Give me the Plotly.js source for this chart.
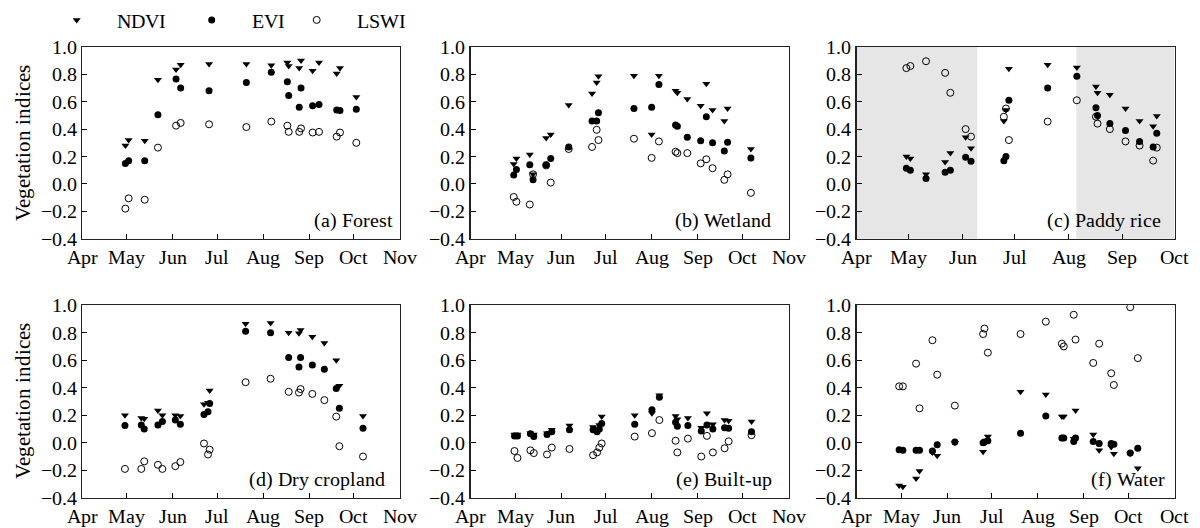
<!DOCTYPE html>
<html>
<head>
<meta charset="utf-8">
<script src="https://cdn.plot.ly/plotly-3.0.1.min.js"></script>
<style>
@font-face { font-family: "ChartSerif"; src: local("Liberation Serif"), local("LiberationSerif-Regular"), local("LiberationSerif"), local("DejaVu Serif"), local("DejaVuSerif"); }
html,body{margin:0;padding:0;background:#fff;}#chart{width:1200px;height:528px;}
</style>
</head>
<body>
<div id="chart"></div>
<script>
// Month ticks (day of year, non-leap year)
const monthTickVals = [91, 121, 152, 182, 213, 244, 274, 305];
const monthTickText = ["Apr", "May", "Jun", "Jul", "Aug", "Sep", "Oct", "Nov"];
const monthTickTextF = ["Apr", "May", "Jun", "Jul", "Aug", "Sep", "Oct", "Oct"];
const monthTickValsC = [91, 121, 152, 182, 213, 244, 274];
const monthTickTextC = ["Apr", "May", "Jun", "Jul", "Aug", "Sep", "Oct"];

// (a) Forest
const forestDoy  = [120.2, 122.4, 133.2, 142.1, 154.3, 157.4, 176.5, 201.6, 218.4, 229.2, 230.1, 237.2, 238.4, 246.2, 250.5, 262.4, 264.6, 275.6];
const forestNDVI = [0.28, 0.32, 0.315, 0.76, 0.835, 0.87, 0.875, 0.875, 0.865, 0.885, 0.86, 0.845, 0.90, 0.825, 0.885, 0.805, 0.845, 0.635];
const forestEVI  = [0.15, 0.17, 0.17, 0.505, 0.765, 0.70, 0.68, 0.74, 0.815, 0.745, 0.645, 0.56, 0.70, 0.57, 0.58, 0.54, 0.535, 0.545];
const forestLSWI = [-0.18, -0.105, -0.115, 0.265, 0.425, 0.445, 0.435, 0.415, 0.455, 0.425, 0.38, 0.38, 0.405, 0.375, 0.38, 0.345, 0.375, 0.30];

// (b) Wetland
const wetlandDoy  = [120.1, 121.9, 130.9, 133.1, 141.9, 145.0, 157.1, 172.8, 175.9, 177.1, 201.0, 212.9, 217.8, 229.0, 230.2, 236.9, 245.9, 249.7, 253.9, 261.8, 264.0, 279.7];
const wetlandNDVI = [0.145, 0.185, 0.215, 0.07, 0.335, 0.36, 0.575, 0.66, 0.74, 0.785, 0.79, 0.36, 0.79, 0.68, 0.665, 0.62, 0.57, 0.73, 0.54, 0.46, 0.55, 0.255];
const wetlandEVI  = [0.065, 0.105, 0.14, 0.03, 0.14, 0.185, 0.27, 0.46, 0.46, 0.52, 0.55, 0.56, 0.725, 0.43, 0.42, 0.34, 0.315, 0.49, 0.30, 0.24, 0.305, 0.19];
const wetlandLSWI = [-0.095, -0.13, -0.15, 0.07, 0.135, 0.01, 0.255, 0.27, 0.395, 0.32, 0.33, 0.19, 0.31, 0.235, 0.225, 0.225, 0.15, 0.18, 0.115, 0.03, 0.07, -0.065];

// (c) Paddy rice
const paddyDoy  = [119.7, 122.0, 131.0, 142.0, 145.0, 153.8, 156.9, 175.8, 177.0, 178.7, 201.0, 217.8, 228.8, 229.7, 236.8, 245.8, 253.9, 261.7, 263.8];
const paddyNDVI = [0.20, 0.185, 0.07, 0.16, 0.225, 0.34, 0.26, 0.46, 0.54, 0.84, 0.87, 0.85, 0.71, 0.665, 0.65, 0.55, 0.46, 0.42, 0.495];
const paddyEVI  = [0.115, 0.10, 0.04, 0.085, 0.10, 0.195, 0.165, 0.17, 0.20, 0.61, 0.70, 0.785, 0.555, 0.50, 0.44, 0.39, 0.31, 0.27, 0.37];
const paddyLSWI = [0.845, 0.86, 0.895, 0.81, 0.665, 0.40, 0.345, 0.49, 0.55, 0.32, 0.455, 0.61, 0.49, 0.44, 0.40, 0.31, 0.28, 0.17, 0.265];
// shaded periods (day of year)
const paddyShade = [[91, 160.5], [217.5, 274]];

// (d) Dry cropland
const dryDoy  = [119.9, 130.9, 132.9, 142.1, 145.1, 153.8, 157.2, 173.1, 175.8, 176.9, 201.1, 217.9, 230.1, 237.0, 238.1, 246.0, 254.1, 262.1, 264.2, 280.1];
const dryNDVI = [0.20, 0.18, 0.175, 0.235, 0.20, 0.20, 0.195, 0.28, 0.29, 0.38, 0.865, 0.87, 0.80, 0.795, 0.82, 0.77, 0.725, 0.60, 0.415, 0.195];
const dryEVI  = [0.125, 0.13, 0.10, 0.13, 0.155, 0.165, 0.135, 0.205, 0.225, 0.285, 0.81, 0.80, 0.62, 0.55, 0.62, 0.565, 0.535, 0.395, 0.25, 0.105];
const dryLSWI = [-0.19, -0.19, -0.135, -0.16, -0.19, -0.17, -0.14, -0.005, -0.085, -0.05, 0.44, 0.465, 0.37, 0.365, 0.39, 0.355, 0.31, 0.19, -0.025, -0.10];

// (e) Built-up
const builtDoy  = [120.6, 122.6, 131.3, 133.6, 142.5, 145.7, 157.6, 173.5, 176.2, 177.7, 179.3, 201.5, 213.1, 218.1, 229.0, 230.2, 237.3, 246.3, 250.1, 254.1, 262.0, 264.7, 280.1];
const builtNDVI = [0.06, 0.06, 0.07, 0.06, 0.07, 0.095, 0.125, 0.115, 0.10, 0.13, 0.19, 0.20, 0.215, 0.345, 0.195, 0.17, 0.18, 0.11, 0.215, 0.135, 0.165, 0.16, 0.155];
const builtEVI  = [0.05, 0.05, 0.065, 0.045, 0.06, 0.08, 0.095, 0.095, 0.08, 0.10, 0.14, 0.135, 0.24, 0.33, 0.15, 0.12, 0.125, 0.085, 0.13, 0.10, 0.11, 0.105, 0.08];
const builtLSWI = [-0.06, -0.11, -0.055, -0.075, -0.085, -0.035, -0.045, -0.09, -0.07, -0.035, -0.005, 0.045, 0.07, 0.165, 0.015, -0.07, 0.03, -0.10, 0.05, -0.07, -0.04, 0.01, 0.055];

// (f) Water
const waterDoy  = [119.7, 122.2, 131.1, 133.4, 142.1, 145.3, 157.2, 176.2, 177.1, 179.4, 201.4, 218.4, 229.2, 230.5, 237.2, 238.4, 250.3, 254.3, 262.4, 264.2, 275.2, 280.3];
const waterNDVI = [-0.31, -0.32, -0.26, -0.205, -0.07, -0.095, 0.0, -0.065, 0.0, 0.045, 0.37, 0.35, 0.19, 0.19, 0.03, 0.235, 0.06, -0.055, -0.03, -0.08, -0.08, -0.185];
const waterEVI  = [-0.05, -0.055, -0.055, -0.055, -0.06, -0.015, 0.005, 0.0, 0.005, 0.015, 0.07, 0.195, 0.035, 0.035, 0.01, 0.035, 0.01, -0.005, -0.005, -0.01, -0.075, -0.04];
const waterLSWI = [0.41, 0.41, 0.575, 0.25, 0.745, 0.495, 0.27, 0.79, 0.83, 0.655, 0.79, 0.88, 0.72, 0.70, 0.93, 0.75, 0.58, 0.72, 0.505, 0.42, 0.985, 0.615];

const panelLabels = ["(a) Forest", "(b) Wetland", "(c) Paddy rice", "(d) Dry cropland", "(e) Built-up", "(f) Water"];
const seriesNames = ["NDVI", "EVI", "LSWI"];

const panels = [
  {doy: forestDoy, v: [forestNDVI, forestEVI, forestLSWI]},
  {doy: wetlandDoy, v: [wetlandNDVI, wetlandEVI, wetlandLSWI]},
  {doy: paddyDoy, v: [paddyNDVI, paddyEVI, paddyLSWI]},
  {doy: dryDoy, v: [dryNDVI, dryEVI, dryLSWI]},
  {doy: builtDoy, v: [builtNDVI, builtEVI, builtLSWI]},
  {doy: waterDoy, v: [waterNDVI, waterEVI, waterLSWI]}
];

const FONT = "ChartSerif";
const markers = [
  {symbol: "triangle-down", size: 7, color: "#000"},
  {symbol: "circle", size: 7, color: "#000"},
  {symbol: "circle-open", size: 7, color: "#000", line: {color: "#000", width: 1}}
];
const legendIds = ["legend", "legend2", "legend3"];

const traces = [];
panels.forEach((p, i) => {
  const sfx = i === 0 ? "" : String(i + 1);
  for (let s = 0; s < 3; s++) {
    traces.push({
      type: "scatter", mode: "markers",
      x: p.doy, y: p.v[s], name: seriesNames[s],
      xaxis: "x" + sfx, yaxis: "y" + sfx,
      marker: markers[s],
      showlegend: i === 0,
      legend: legendIds[s],
      hoverinfo: "skip"
    });
  }
});

const W = 1200, H = 528;
const colX = [[82, 400], [470.5, 788.5], [856.5, 1174.5]];
const rowY = [[45, 237.7], [304.3, 497.7]];

const layout = {
  width: W, height: H,
  margin: {l: 0, r: 0, t: 0, b: 0},
  paper_bgcolor: "#fff", plot_bgcolor: "#fff",
  font: {family: FONT, size: 20, color: "#000"},
  shapes: [], annotations: []
};

const annotGap = [5, 16, 12, 13, 15, 8];

panels.forEach((p, i) => {
  const col = i % 3, row = Math.floor(i / 3);
  const sfx = i === 0 ? "" : String(i + 1);
  const isC = i === 2, isF = i === 5;
  layout["xaxis" + sfx] = {
    domain: [colX[col][0] / W, colX[col][1] / W],
    anchor: "y" + sfx,
    range: isC ? [91, 274] : [91, 305],
    tickmode: "array",
    tickvals: isC ? monthTickValsC : monthTickVals,
    ticktext: isC ? monthTickTextC : (isF ? monthTickTextF : monthTickText),
    ticks: "inside", ticklen: 5, tickwidth: 1, tickcolor: "#000",
    showline: true, mirror: true, linecolor: "#222", linewidth: 1.3,
    showgrid: false, zeroline: false,
    tickfont: {family: FONT, size: 20, color: "#000"},
    fixedrange: true
  };
  layout["yaxis" + sfx] = {
    domain: [1 - rowY[row][1] / H, 1 - rowY[row][0] / H],
    anchor: "x" + sfx,
    range: [-0.4, 1.0],
    tickmode: "linear", tick0: -0.4, dtick: 0.2, tickformat: ".1f",
    ticks: "inside", ticklen: 5, tickwidth: 1, tickcolor: "#000",
    showline: true, mirror: true, linecolor: "#222", linewidth: 1.3,
    showgrid: false, zeroline: false,
    tickfont: {family: FONT, size: 20, color: "#000"},
    fixedrange: true
  };
  if (col === 0) {
    layout["yaxis" + sfx].title = {text: "Vegetation indices", font: {family: FONT, size: 21, color: "#000"}};
  }
  layout.annotations.push({
    xref: "x" + sfx + " domain", yref: "y" + sfx + " domain",
    x: 1, y: 0.1, xanchor: "right", yanchor: "middle",
    xshift: -annotGap[i],
    text: panelLabels[i], showarrow: false,
    font: {family: FONT, size: 20, color: "#000"}
  });
});

paddyShade.forEach(r => {
  layout.shapes.push({
    type: "rect", xref: "x3", yref: "y3 domain",
    x0: r[0], x1: r[1], y0: 0, y1: 1,
    fillcolor: "#e6e6e6", line: {width: 0}, layer: "below"
  });
});

const legendSymbolX = [76.7, 211.7, 316.7];
legendIds.forEach((id, k) => {
  layout[id] = {
    orientation: "h",
    x: (legendSymbolX[k] - 40) / W, xanchor: "left",
    y: 1 - 18 / H, yanchor: "middle",
    itemwidth: 70,
    bgcolor: "rgba(0,0,0,0)", borderwidth: 0,
    font: {family: FONT, size: 20, color: "#000"}
  };
});

Plotly.newPlot("chart", traces, layout, {displayModeBar: false, staticPlot: true});
</script>
</body>
</html>
